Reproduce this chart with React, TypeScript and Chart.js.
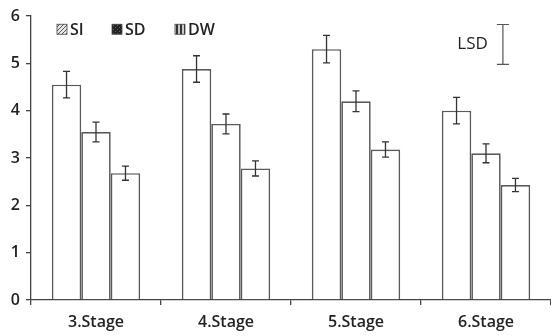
import React, { useEffect, useRef } from 'react';
import { Chart, registerables } from 'chart.js';
Chart.register(...registerables);

const categories = ['3.Stage', '4.Stage', '5.Stage', '6.Stage'];
const seriesNames = ['SI', 'SD', 'DW'];
const siValues = [4.55, 4.88, 5.3, 4.0];
const sdValues = [3.55, 3.72, 4.2, 3.1];
const dwValues = [2.68, 2.78, 3.18, 2.43];
const siErrors = [0.28, 0.28, 0.29, 0.28];
const sdErrors = [0.21, 0.21, 0.22, 0.2];
const dwErrors = [0.15, 0.16, 0.16, 0.14];
const lsdLow = 4.98;
const lsdHigh = 5.82;
const lsdLabel = 'LSD';
const yMin = 0;
const yMax = 6;

const FONT = '"Open Sans", "DejaVu Sans", sans-serif';

function makePattern(kind: string): CanvasPattern | string {
  const c = document.createElement('canvas');
  c.width = 4; c.height = 4;
  const g = c.getContext('2d');
  if (!g) return '#888';
  if (kind === 'SI') {
    g.fillStyle = '#e8e8e8'; g.fillRect(0, 0, 4, 4);
    g.strokeStyle = '#555'; g.lineWidth = 1;
    g.beginPath(); g.moveTo(0, 4); g.lineTo(4, 0); g.moveTo(-1, 1); g.lineTo(1, -1); g.moveTo(3, 5); g.lineTo(5, 3); g.stroke();
  } else if (kind === 'SD') {
    g.fillStyle = '#222'; g.fillRect(0, 0, 4, 4);
    g.fillStyle = '#666'; g.fillRect(1, 1, 1, 1); g.fillRect(3, 3, 1, 1);
  } else {
    g.fillStyle = '#ccc'; g.fillRect(0, 0, 4, 4);
    g.fillStyle = '#333'; g.fillRect(0, 0, 2, 4);
  }
  const p = g.createPattern(c, 'repeat');
  return p || '#888';
}

const errorSets = [siErrors, sdErrors, dwErrors];

const errorBarPlugin = {
  id: 'errorBars',
  afterDatasetsDraw(chart: any) {
    const ctx = chart.ctx;
    const y = chart.scales.y;
    const x = chart.scales.x;
    ctx.save();
    ctx.strokeStyle = '#333';
    ctx.lineWidth = 1.3;
    chart.data.datasets.forEach((ds: any, di: number) => {
      const meta = chart.getDatasetMeta(di);
      meta.data.forEach((el: any, i: number) => {
        const v = ds.data[i];
        const e = errorSets[di][i];
        const top = y.getPixelForValue(v + e);
        const bot = y.getPixelForValue(v - e);
        const cx = el.x;
        ctx.beginPath();
        ctx.moveTo(cx, top); ctx.lineTo(cx, bot);
        ctx.moveTo(cx - 3.5, top); ctx.lineTo(cx + 3.5, top);
        ctx.moveTo(cx - 3.5, bot); ctx.lineTo(cx + 3.5, bot);
        ctx.stroke();
      });
    });
    // LSD marker
    const lx = x.getPixelForValue(3.13);
    const lt = y.getPixelForValue(lsdHigh);
    const lb = y.getPixelForValue(lsdLow);
    ctx.strokeStyle = '#555';
    ctx.lineWidth = 1.2;
    ctx.beginPath();
    ctx.moveTo(lx, lt); ctx.lineTo(lx, lb);
    ctx.moveTo(lx - 6, lt); ctx.lineTo(lx + 6, lt);
    ctx.moveTo(lx - 6, lb); ctx.lineTo(lx + 6, lb);
    ctx.stroke();
    ctx.fillStyle = '#222';
    ctx.font = `17px ${FONT}`;
    ctx.textAlign = 'right';
    ctx.textBaseline = 'middle';
    ctx.fillText(lsdLabel, lx - 15, (lt + lb) / 2);

    // legend
    const area = chart.chartArea;
    const ly = y.getPixelForValue(5.72);
    const offsets = [26, 81, 144];
    ctx.textAlign = 'left';
    ctx.font = `600 16px ${FONT}`;
    seriesNames.forEach((name, i) => {
      const bx = area.left + offsets[i];
      ctx.fillStyle = makePattern(name) as any;
      ctx.fillRect(bx, ly - 5, 10, 10);
      ctx.strokeStyle = '#444';
      ctx.lineWidth = 0.8;
      ctx.strokeRect(bx, ly - 5, 10, 10);
      ctx.fillStyle = '#222';
      ctx.fillText(name, bx + 13, ly + 1);
    });
    ctx.restore();
  },
};

export default function App() {
  const ref = useRef<HTMLCanvasElement>(null);
  useEffect(() => {
    document.body.style.margin = '0';
    if (!ref.current) return;
    const mk = (label: string, data: number[]) => ({
      label,
      data,
      backgroundColor: '#ffffff',
      borderColor: '#5a5a5a',
      borderWidth: 1.7,
      categoryPercentage: 0.68,
      barPercentage: 1.0,
    });
    const chart = new Chart(ref.current, {
      type: 'bar',
      data: {
        labels: categories,
        datasets: [mk(seriesNames[0], siValues), mk(seriesNames[1], sdValues), mk(seriesNames[2], dwValues)],
      },
      options: {
        animation: false,
        responsive: false,
        maintainAspectRatio: false,
        layout: { padding: { top: 16, right: 0, left: 0, bottom: 0 } },
        plugins: { legend: { display: false }, tooltip: { enabled: false } },
        scales: {
          x: {
            offset: true,
            grid: { offset: true, drawOnChartArea: false, tickLength: 5, color: '#444', lineWidth: 1.3 },
            border: { color: '#444', width: 1.3 },
            ticks: { color: '#222', font: { family: FONT, size: 16, weight: '600' }, padding: 8, maxRotation: 0 },
            afterFit: (s: any) => { s.height = 36; },
          },
          y: {
            min: yMin,
            max: yMax,
            grid: { drawOnChartArea: false, tickLength: 5, color: '#444', lineWidth: 1.3 },
            border: { color: '#444', width: 1.3 },
            ticks: { stepSize: 1, color: '#222', font: { family: FONT, size: 16, weight: '600' }, padding: 6 },
            afterFit: (s: any) => { s.width = 31; },
          },
        },
      },
      plugins: [errorBarPlugin],
    } as any);
    return () => chart.destroy();
  }, []);
  return <canvas ref={ref} width={551} height={336} style={{ display: 'block' }} />;
}
